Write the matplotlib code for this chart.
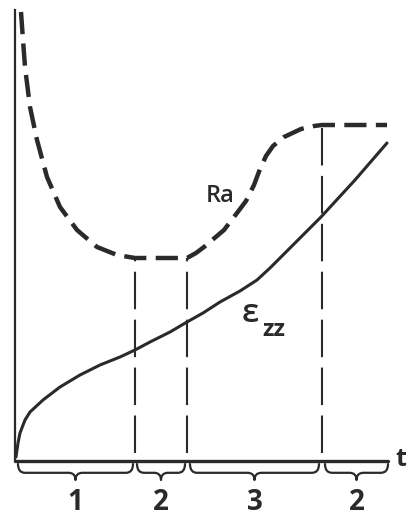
import numpy as np
import matplotlib
matplotlib.use("Agg")
import matplotlib.pyplot as plt
from matplotlib.path import Path
from matplotlib.patches import PathPatch

# Ra (dashed) curve: time vs value (arbitrary units)
ra_t = [6, 8, 10, 15, 22, 32, 45, 62, 82, 102, 120, 172, 181, 189, 209, 222, 231, 239, 245, 251, 258, 269, 286, 299, 307, 372]
ra_v = [449, 421, 394, 354, 321, 284, 254, 231, 214, 206, 203, 203, 208, 214, 231, 248, 260, 276, 292, 305, 315, 324, 332, 335, 336, 336]

# strain curve eps_zz
ez_t = [1, 3, 5, 10, 15, 28, 45, 65, 85, 105, 120, 135, 155, 172, 188, 205, 225, 242, 255, 270, 285, 306, 340, 372]
ez_v = [4, 18, 28, 41, 49, 61, 74, 86, 96, 104, 111, 119, 129, 139, 148, 159, 170, 181, 193, 208, 223, 244, 281, 318]

# stage boundaries (vertical dashed lines) and their tops
bound_t = [120, 172, 307]
bound_top = [203, 203, 336]

# stages braces
stage_ranges = [(3, 118), (122, 170), (175, 304), (310, 373)]
stage_labels = ["1", "2", "3", "2"]

W, H = 408, 515
fig = plt.figure(figsize=(W / 100, H / 100), dpi=100)
fig.patch.set_facecolor("white")
ax = fig.add_axes([15 / W, (515 - 461) / H, (388 - 15) / W, (461 - 10) / H])
ax.set_xlim(0, 373)
ax.set_ylim(0, 451)
for s in ["top", "right"]:
    ax.spines[s].set_visible(False)
ax.spines["left"].set_linewidth(1.6)
ax.spines["bottom"].set_linewidth(2.4)
ax.spines["bottom"].set_capstyle("round")
for s in ["left", "bottom"]:
    ax.spines[s].set_color("#2a2a2a")
ax.set_xticks([])
ax.set_yticks([])
ax.patch.set_alpha(0)

col = "#2a2a2a"
ax.plot(ra_t, ra_v, color=col, lw=3.2, dashes=(5.0, 2.1), solid_joinstyle="round",
        clip_on=False)
ax.plot(ez_t, ez_v, color=col, lw=2.2, solid_joinstyle="round", solid_capstyle="round",
        clip_on=False)

for bt, top in zip(bound_t, bound_top):
    ax.plot([bt, bt], [8, top], color=col, lw=1.5, dashes=(18, 5))


def brace(t0, t1, y0=-3, depth=-16):
    m = (t0 + t1) / 2
    yc = y0 + depth * 0.55
    verts = [(t0, y0), (t0, yc), (t0 + 7, yc),
             (m - 7, yc),
             (m, yc), (m, y0 + depth),
             (m, yc), (m + 7, yc),
             (t1 - 7, yc),
             (t1, yc), (t1, y0)]
    codes = [Path.MOVETO, Path.CURVE3, Path.CURVE3,
             Path.LINETO,
             Path.CURVE3, Path.CURVE3,
             Path.CURVE3, Path.CURVE3,
             Path.LINETO,
             Path.CURVE3, Path.CURVE3]
    p = PathPatch(Path(verts, codes), fill=False, lw=1.6, ec=col, clip_on=False,
                  joinstyle="round", capstyle="round")
    ax.add_patch(p)


fam = ["Open Sans", "DejaVu Sans"]
for (t0, t1), lab in zip(stage_ranges, stage_labels):
    brace(t0, t1)
    ax.text((t0 + t1) / 2, -41, lab, ha="center", va="center", fontsize=20,
            fontweight="bold", family=fam, color=col, clip_on=False)

ax.text(391, 1, "t", ha="right", va="center", fontsize=18, fontweight="bold",
        family=fam, color=col, clip_on=False)
ax.text(205, 265, "Ra", ha="center", va="center", fontsize=17, fontweight="semibold",
        family=fam, color=col)
ax.text(235, 147, "ε", ha="center", va="center", fontsize=24, fontweight="semibold",
        family=fam, color=col)
ax.text(259, 131, "zz", ha="center", va="center", fontsize=17, fontweight="bold",
        family=fam, color=col)

fig.savefig("out.png", dpi=100, facecolor="white")
